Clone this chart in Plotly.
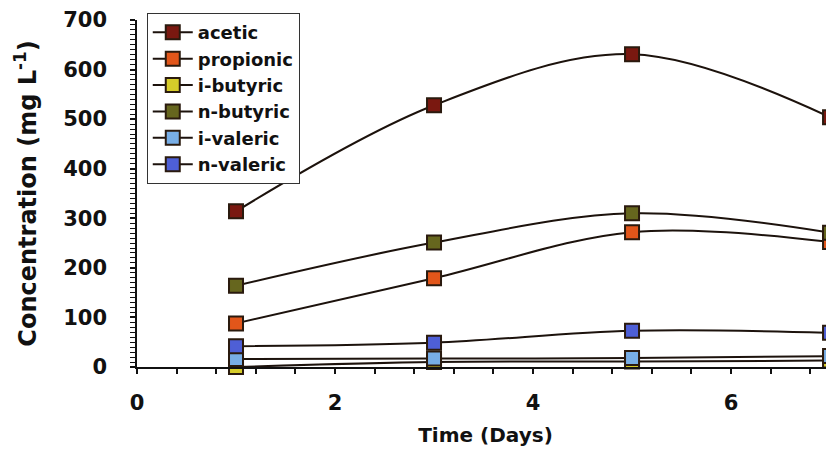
import plotly.graph_objects as go

days = [1, 3, 5, 7]
acetic = [314, 528, 631, 504]
propionic = [88, 179, 272, 252]
i_butyric = [0, 10, 11, 13]
n_butyric = [164, 251, 310, 271]
i_valeric = [16, 17, 18, 22]
n_valeric = [42, 49, 73, 69]

series_names = ["acetic", "propionic", "i-butyric", "n-butyric", "i-valeric", "n-valeric"]
series_values = [acetic, propionic, i_butyric, n_butyric, i_valeric, n_valeric]
series_colors = ["#7a1810", "#e2561a", "#d6cc2a", "#66661e", "#78aee6", "#4e5fd6"]

x_ticks = [0, 2, 4, 6]
y_ticks = [0, 100, 200, 300, 400, 500, 600, 700]

FONT = "DejaVu Sans, Liberation Sans, Arial, sans-serif"

fig = go.Figure()
for name, vals, col in zip(series_names, series_values, series_colors):
    fig.add_trace(go.Scatter(
        x=days, y=vals, name=name, mode="lines+markers",
        line=dict(color="#1c120c", width=2, shape="spline", smoothing=1),
        marker=dict(symbol="square", size=14, color=col,
                    line=dict(color="#2a1a0e", width=2)),
        cliponaxis=False,
    ))

# page body has an 8px default margin, so the figure is sized to end at the window edge
fig.update_layout(
    width=826, height=454,
    margin=dict(l=129, r=0, t=12, b=95),
    paper_bgcolor="white", plot_bgcolor="white",
    font=dict(family=FONT, color="#111", size=20, weight="bold"),
    showlegend=True,
    legend=dict(
        x=0.014, y=1.02, xanchor="left", yanchor="top",
        bgcolor="white", bordercolor="#333", borderwidth=1,
        font=dict(family=FONT, size=18, color="#111", weight="bold"),
        itemwidth=40, tracegroupgap=0,
    ),
    xaxis=dict(
        range=[0, 7.04], tickvals=x_ticks, ticktext=[str(t) for t in x_ticks],
        automargin=False,
        showline=True, linecolor="#111", linewidth=1.5,
        ticks="outside", ticklen=5, tickwidth=1.5, tickcolor="#111",
        minor=dict(dtick=0.4, ticks="outside", ticklen=5, tickwidth=1.5, tickcolor="#111"),
        showgrid=False, zeroline=False,
        ticklabelstandoff=11,
        tickfont=dict(size=21, weight="bold"),
        title=dict(text="Time (Days)", font=dict(size=20, weight="bold"), standoff=14),
    ),
    yaxis=dict(
        range=[0, 700], tickvals=y_ticks, ticktext=[str(t) for t in y_ticks],
        automargin=False,
        showline=True, linecolor="#111", linewidth=1.5,
        ticks="outside", ticklen=5, tickwidth=1.5, tickcolor="#111",
        minor=dict(dtick=10, ticks="outside", ticklen=5, tickwidth=1.2, tickcolor="#111"),
        showgrid=False, zeroline=False,
        ticklabelstandoff=19,
        tickfont=dict(size=21, weight="bold"),
        title=dict(text="Concentration (mg L<sup>-1</sup>)", font=dict(size=24, weight="bold"), standoff=20),
    ),
)

fig.write_html("out.html")
